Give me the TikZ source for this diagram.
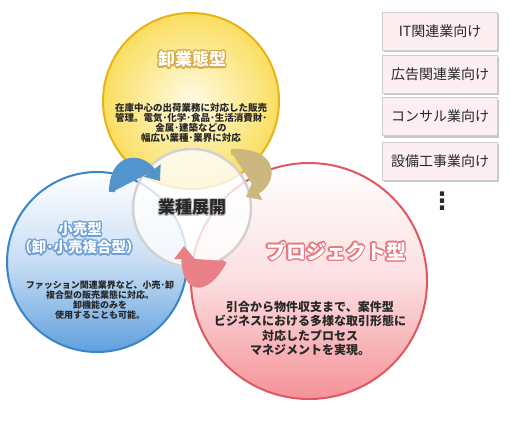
\documentclass[tikz,border=0pt]{standalone}
\usepackage{fontspec}
\setmainfont{Noto Sans CJK JP}
\newfontfamily\symfont{DejaVu Sans}
\usepackage{contour}
\contourlength{1.3pt}
\usetikzlibrary{arrows.meta,shadows}
\definecolor{goldedge}{RGB}{232,178,24}
\definecolor{goldlight}{RGB}{255,251,228}
\definecolor{goldfill}{RGB}{250,222,96}
\definecolor{goldglow}{RGB}{214,170,70}
\definecolor{blueedge}{RGB}{58,132,202}
\definecolor{bluefill}{RGB}{96,160,222}
\definecolor{blueglow}{RGB}{110,160,215}
\definecolor{rededge}{RGB}{222,88,98}
\definecolor{redfill}{RGB}{244,146,152}
\definecolor{redglow}{RGB}{232,120,128}
\definecolor{hubedge}{RGB}{210,210,210}
\definecolor{boxfill}{RGB}{253,238,242}
\definecolor{boxedge}{RGB}{205,205,205}
\definecolor{ink}{RGB}{40,40,40}
\definecolor{tanarrow}{RGB}{204,184,126}
\definecolor{bluearrow}{RGB}{82,148,204}
\definecolor{redarrow}{RGB}{232,128,134}
\tikzset{
	bubble/.style={circle,line width=2pt,inner sep=0pt},
	hubdisk/.style={circle,draw=hubedge,line width=2.5pt,fill=white,fill opacity=0.78,
		text opacity=1,inner sep=0pt,minimum size=118pt,text=ink,
		font=\fontsize{17}{17}\selectfont\bfseries},
	turn/.style={line width=6pt,-{Triangle[length=13pt,width=20pt]}},
	title/.style={text=white,font=\bfseries,inner sep=1pt},
	desc/.style={align=center,text=ink,font=\bfseries,inner sep=1pt},
	tag/.style={draw=boxedge,fill=boxfill,minimum width=115pt,minimum height=38pt,
		inner sep=1pt,text=ink,font=\fontsize{14}{14}\selectfont,
		drop shadow={shadow xshift=1.5pt,shadow yshift=-2pt,fill=black!22,opacity=1}},
}
\begin{document}
\begin{tikzpicture}[x=1pt,y=-1pt]
	\useasboundingbox (0,0) rectangle (510,420);
	
	% three business types
	\node[bubble,minimum size=236pt,draw=rededge,top color=white,bottom color=redfill,
	middle color=redfill!30] (project) at (309,281) {};
	\node[bubble,minimum size=180pt,draw=blueedge,top color=white,bottom color=bluefill,
	middle color=bluefill!35] (retail) at (97,262) {};
	\node[bubble,minimum size=176pt,draw=goldedge,inner color=goldlight,outer color=goldfill]
	(wholesale) at (191,101) {};
	
	\node[title,font=\fontsize{17}{17}\selectfont\bfseries] (wholesaleTitle) at (192,60)
	{\contour{goldglow}{卸業態型}};
	\node[desc,font=\fontsize{9.5}{10.2}\selectfont\bfseries] (wholesaleText) at (191,123) {%
		在庫中心の出荷業務に対応した販売\\
		管理。電気･化学･食品･生活消費財･\\
		金属･建築などの\\
		幅広い業種･業界に対応
	};
	
	\node[title,font=\fontsize{14.5}{14.5}\selectfont\bfseries] (retailTitle) at (80,230)
	{\contour{blueglow}{小売型}};
	\node[title,font=\fontsize{14.5}{14.5}\selectfont\bfseries] (retailSub) at (79,248)
	{\contour{blueglow}{（卸･小売複合型）}};
	\node[desc,font=\fontsize{9}{10}\selectfont\bfseries] (retailText) at (100,300) {%
		ファッション関連業界など、小売･卸\\
		複合型の販売業態に対応。\\
		卸機能のみを\\
		使用することも可能。
	};
	
	\node[title,font=\fontsize{20}{20}\selectfont\bfseries] (projectTitle) at (336,252)
	{\contour{redglow}{プロジェクト型}};
	\node[desc,font=\fontsize{12}{14.4}\selectfont\bfseries] (projectText) at (310,328.5) {%
		引合から物件収支まで、案件型\\
		ビジネスにおける多様な取引形態に\\
		対応したプロセス\\
		マネジメントを実現。
	};
	
	% hub and rotation
	\node[hubdisk] (hub) at (192,208) {\contourlength{1pt}\contour{black!25}{業種展開}};
	
	\coordinate (blueTail) at (112,192);
	\coordinate (blueTip) at (160,181);
	\coordinate (tanTail) at (231,152);
	\coordinate (tanTip) at (246,197);
	\coordinate (redTail) at (224,261);
	\coordinate (redTip) at (184,246);
	\draw[turn,draw=bluearrow,fill=bluearrow] (blueTail) .. controls (112,156) and (140,154) .. (blueTip);
	\draw[turn,draw=tanarrow,fill=tanarrow] (tanTail) .. controls (278,150) and (274,182) .. (tanTip);
	\draw[turn,draw=redarrow,fill=redarrow] (redTail) .. controls (206,294) and (185,292) .. (redTip);
	
	% industries
	\node[tag] (tagIT) at (440,31) {IT関連業向け};
	\node[tag] (tagAd) at (440,74) {広告関連業向け};
	\node[tag] (tagConsult) at (440,116.5) {コンサル業向け};
	\node[tag] (tagFacility) at (440,161) {設備工事業向け};
	\node[text=ink,font=\symfont\fontsize{24}{24}\selectfont\bfseries] (more) at (442,201) {⋮};
\end{tikzpicture}
\end{document}
